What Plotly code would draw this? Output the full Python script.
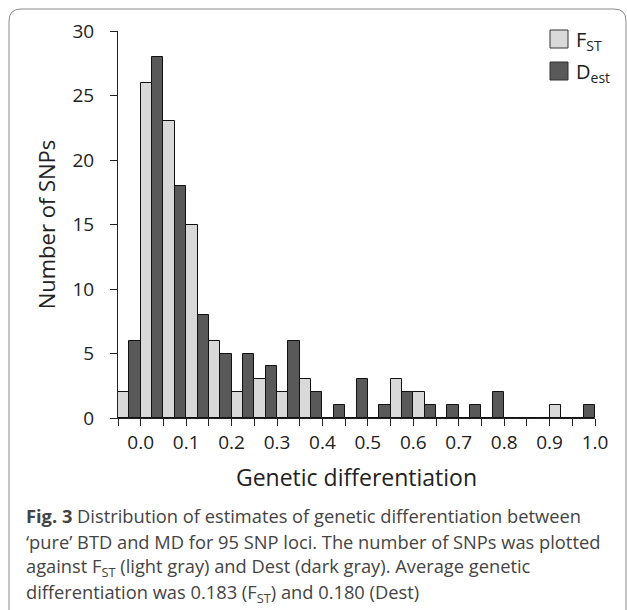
import plotly.graph_objects as go

# upper edge of each bin (bins are 0.05 wide)
bin_upper = [0.00, 0.05, 0.10, 0.15, 0.20, 0.25, 0.30, 0.35, 0.40, 0.45, 0.50,
             0.55, 0.60, 0.65, 0.70, 0.75, 0.80, 0.85, 0.90, 0.95, 1.00]
fst_counts = [2, 26, 23, 15, 6, 2, 3, 2, 3, 0, 0, 0, 3, 2, 0, 0, 0, 0, 0, 1, 0]
dest_counts = [6, 28, 18, 8, 5, 5, 4, 6, 2, 1, 3, 1, 2, 1, 1, 1, 2, 0, 0, 0, 1]

x_tick_vals = [-0.05] + bin_upper
x_tick_text = ["", "0.0", "", "0.1", "", "0.2", "", "0.3", "", "0.4", "", "0.5",
               "", "0.6", "", "0.7", "", "0.8", "", "0.9", "", "1.0"]

caption_lines = [
    "<b>Fig. 3</b> Distribution of estimates of genetic differentiation between",
    "\u2018pure\u2019 BTD and MD for 95 SNP loci. The number of SNPs was plotted",
    "against F<sub>ST</sub> (light gray) and Dest (dark gray). Average genetic",
    "differentiation was 0.183 (F<sub>ST</sub>) and 0.180 (Dest)",
]

LIGHT = "#d9d9d9"
DARK = "#595959"
FONT = "Open Sans"

W, H = 627, 610
L, R, T, B = 118, 32, 31, 192
PW, PH = W - L - R, H - T - B


# pixel -> paper helpers for the decorations
def px(x):
    return (x - L) / PW


def py(y):
    return (H - B - y) / PH


centers = [u - 0.025 for u in bin_upper]

fig = go.Figure()
fig.add_trace(go.Bar(x=centers, y=fst_counts, name="FST", marker_color=LIGHT,
                     marker_line=dict(color="#111", width=1)))
fig.add_trace(go.Bar(x=centers, y=dest_counts, name="Dest", marker_color=DARK,
                     marker_line=dict(color="#111", width=1)))

shapes = []
# rounded frame round the whole figure
x0, x1, y0, y1, r = 9, 626, 9, 622, 12
path = (f"M {px(x0 + r)},{py(y0)} L {px(x1 - r)},{py(y0)} "
        f"Q {px(x1)},{py(y0)} {px(x1)},{py(y0 + r)} L {px(x1)},{py(y1 - r)} "
        f"Q {px(x1)},{py(y1)} {px(x1 - r)},{py(y1)} L {px(x0 + r)},{py(y1)} "
        f"Q {px(x0)},{py(y1)} {px(x0)},{py(y1 - r)} L {px(x0)},{py(y0 + r)} "
        f"Q {px(x0)},{py(y0)} {px(x0 + r)},{py(y0)} Z")
shapes.append(dict(type="path", xref="paper", yref="paper", path=path,
                   line=dict(color="#8a8a8a", width=1), layer="below"))

# legend squares
for (top, col) in [(30, LIGHT), (62, DARK)]:
    shapes.append(dict(type="rect", xref="paper", yref="paper",
                       x0=px(550), x1=px(568), y0=py(top), y1=py(top + 18),
                       fillcolor=col, line=dict(color="#333", width=1)))

annotations = [
    dict(text="F<sub>ST</sub>", x=px(574), y=py(40), xanchor="left", yanchor="middle"),
    dict(text="D<sub>est</sub>", x=px(574), y=py(72), xanchor="left", yanchor="middle"),
]
for a in annotations:
    a.update(xref="paper", yref="paper", showarrow=False,
             font=dict(family=FONT, size=20, color="#222"))

for i, line in enumerate(caption_lines):
    annotations.append(dict(text=line, xref="paper", yref="paper", showarrow=False,
                            x=px(24), y=py(515 + 26 * i), xanchor="left", yanchor="middle",
                            font=dict(family=FONT, size=18.3, color="#444")))

fig.update_layout(
    width=W, height=H,
    margin=dict(l=L, r=R, t=T, b=B, pad=0),
    paper_bgcolor="white", plot_bgcolor="white",
    barmode="group", bargap=0, bargroupgap=0,
    showlegend=False,
    font=dict(family=FONT, color="#222"),
    shapes=shapes, annotations=annotations,
)
fig.update_xaxes(
    range=[-0.05, 1.0], tickmode="array", tickvals=x_tick_vals, ticktext=x_tick_text,
    ticks="outside", ticklen=7, tickcolor="#222", showline=True, linecolor="#222",
    showgrid=False, zeroline=False, tickfont=dict(size=19),
    title=dict(text="Genetic differentiation", font=dict(size=23), standoff=16),
)
fig.update_yaxes(
    range=[0, 30], tickvals=[0, 5, 10, 15, 20, 25, 30],
    ticks="outside", ticklen=7, tickcolor="#222", showline=True, linecolor="#222",
    showgrid=False, zeroline=False, tickfont=dict(size=19), ticklabelstandoff=12,
    title=dict(text="Number of SNPs", font=dict(size=22), standoff=10),
)

fig.write_html("out.html", config={"displayModeBar": False},
               post_script="document.body.style.margin = '0';")
